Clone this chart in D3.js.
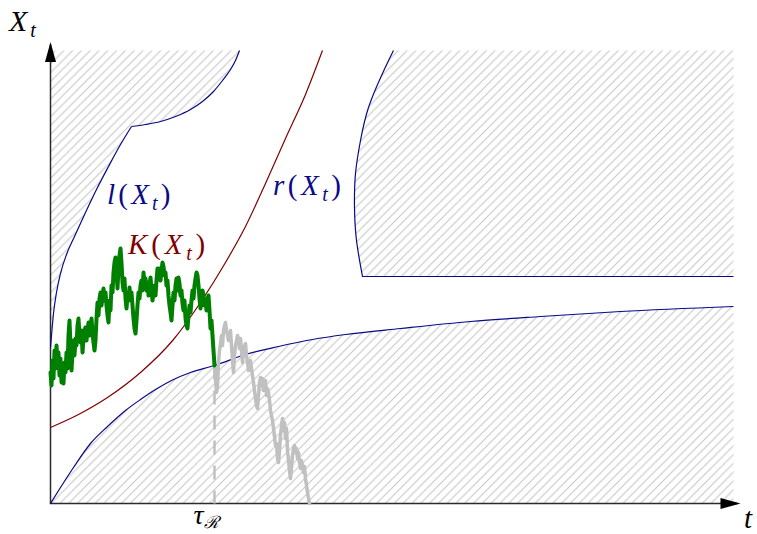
<!DOCTYPE html>
<html>
<head>
<meta charset="utf-8">
<script src="https://cdn.jsdelivr.net/npm/d3@7"></script>
<style>
  body { margin: 0; background: #fff; }
  svg { display: block; }
  text { font-family: "Liberation Serif", "Times New Roman", serif; }
</style>
</head>
<body>
<svg id="chart" width="757" height="534"></svg>
<script>
// Axis extents (time t, state X_t)
const tMax = 6.83;
const xMax = 4.53;
const tau = 1.64;          // first exit time from the continuation region
const plateau = 2.27;      // flat part of the right stopping region

// Lower boundary of the continuation region (points t, X)
const lowerBoundary = [
  [0, 0], [0.10, 0.16], [0.23, 0.36], [0.40, 0.60], [0.57, 0.77], [0.75, 0.93],
  [0.90, 1.04], [1.05, 1.14], [1.23, 1.24], [1.40, 1.31], [1.64, 1.38],
  [1.95, 1.49], [2.28, 1.57], [2.62, 1.64], [2.95, 1.69], [3.50, 1.75],
  [4.20, 1.82], [4.90, 1.87], [5.70, 1.92], [6.83, 1.97]
];

// l(X_t): left boundary, steep branch then flatter branch after the kink
const lBranchA = [
  [0, 1.56], [0.01, 1.68], [0.03, 1.90], [0.06, 2.11], [0.10, 2.30], [0.16, 2.49],
  [0.24, 2.67], [0.35, 2.91], [0.46, 3.14], [0.58, 3.37], [0.70, 3.59], [0.81, 3.77]
];
const lBranchB = [
  [0.81, 3.77], [0.95, 3.79], [1.10, 3.82], [1.25, 3.87], [1.40, 3.94], [1.52, 4.02],
  [1.63, 4.12], [1.72, 4.23], [1.80, 4.34], [1.85, 4.43], [1.89, 4.53]
];

// r(X_t): right boundary, listed from top to bottom
const rBoundary = [
  [3.43, 4.53], [3.32, 4.30], [3.18, 3.96], [3.10, 3.63], [3.05, 3.30],
  [3.04, 2.96], [3.06, 2.63], [3.12, 2.27]
];

// K(X_t)
const kCurve = [
  [0, 0.76], [0.28, 0.89], [0.57, 1.06], [0.90, 1.31], [1.23, 1.64], [1.50, 2.01],
  [1.75, 2.41], [1.95, 2.77], [2.15, 3.20], [2.35, 3.65], [2.55, 4.09], [2.72, 4.53]
];

// Sample path, step dt, before the exit time (green) ...
const dt = 0.01;
const pathBefore = [
  1.31, 1.18, 1.43, 1.25, 1.53, 1.35, 1.58, 1.43, 1.51, 1.28,
  1.45, 1.21, 1.38, 1.20, 1.41, 1.31, 1.51, 1.35, 1.68, 1.83,
  1.58, 1.33, 1.51, 1.63, 1.48, 1.65, 1.58, 1.78, 1.85, 1.68,
  1.61, 1.73, 1.51, 1.65, 1.73, 1.76, 1.63, 1.73, 1.81, 1.68,
  1.78, 1.85, 1.71, 1.61, 1.53, 1.63, 1.85, 2.01, 1.88, 2.05,
  2.11, 1.98, 2.07, 2.15, 2.03, 2.11, 1.98, 1.88, 1.81, 2.03,
  1.93, 2.18, 2.11, 2.31, 2.41, 2.46, 2.33, 2.15, 2.35, 2.48,
  2.55, 2.41, 2.21, 2.13, 2.25, 2.05, 1.95, 2.08, 2.05, 2.16,
  2.03, 2.11, 1.98, 1.85, 1.75, 1.70, 1.83, 1.98, 2.11, 2.05,
  2.18, 2.23, 2.13, 2.31, 2.20, 2.25, 2.13, 2.21, 2.08, 2.18,
  2.26, 2.13, 2.03, 2.11, 2.18, 2.08, 2.23, 2.35, 2.28, 2.35,
  2.23, 2.33, 2.41, 2.37, 2.28, 2.31, 2.18, 2.23, 2.08, 1.98,
  1.91, 1.83, 1.98, 2.11, 2.03, 2.18, 2.25, 2.13, 2.26, 2.20,
  2.08, 2.13, 2.00, 1.93, 2.03, 1.85, 1.78, 1.75, 1.88, 1.98,
  1.91, 2.03, 2.13, 2.05, 2.18, 2.25, 2.31, 2.28, 2.18, 2.05,
  1.95, 2.03, 2.13, 2.08, 1.98, 2.03, 1.93, 2.05, 2.08, 1.93,
  1.75, 1.83, 1.68, 1.53, 1.38
];
// ... and its continuation after it (grey), starting at t = tau
const pathAfter = [
  1.38, 1.25, 1.11, 1.18, 1.41, 1.53, 1.60, 1.68, 1.58, 1.73,
  1.78, 1.81, 1.73, 1.68, 1.63, 1.70, 1.73, 1.58, 1.43, 1.31,
  1.48, 1.58, 1.63, 1.68, 1.65, 1.55, 1.65, 1.53, 1.41, 1.51,
  1.58, 1.60, 1.48, 1.41, 1.33, 1.38, 1.43, 1.35, 1.28, 1.21,
  1.13, 1.05, 0.98, 0.95, 1.08, 1.21, 1.26, 1.18, 1.25, 1.13,
  1.21, 1.23, 1.08, 1.15, 1.11, 1.03, 0.93, 0.88, 0.83, 0.75,
  0.67, 0.58, 0.60, 0.45, 0.41, 0.53, 0.68, 0.78, 0.85, 0.73,
  0.81, 0.65, 0.75, 0.53, 0.43, 0.33, 0.25, 0.35, 0.48, 0.55,
  0.58, 0.51, 0.55, 0.45, 0.51, 0.41, 0.35, 0.43, 0.38, 0.31,
  0.37, 0.25, 0.18, 0.11, 0.05, 0.00
];

const blue = "#0a0a86";
const darkRed = "#800000";
const green = "#008000";
const grey = "#c0c0c0";
const axisColor = "#2b2b2b";

const svg = d3.select("#chart");
const x = d3.scaleLinear().domain([0, tMax]).range([50.5, 733.5]);
const y = d3.scaleLinear().domain([0, xMax]).range([503.5, 50.5]);

// Diagonal hatching used for the stopping regions
const hw = 8.8;
svg.append("defs").append("pattern")
  .attr("id", "hatch")
  .attr("patternUnits", "userSpaceOnUse")
  .attr("width", hw).attr("height", hw)
  .append("path")
  .attr("d", `M0,${hw}L${hw},0M${-hw / 2},${hw / 2}L${hw / 2},${-hw / 2}M${hw / 2},${hw * 1.5}L${hw * 1.5},${hw / 2}`)
  .attr("stroke", "#c4c4c4").attr("stroke-width", 1);

const px = d => x(d[0]);
const py = d => y(d[1]);

// Stopping region below the lower boundary
svg.append("path")
  .attr("d", d3.area().x(px).y0(y(0)).y1(py).curve(d3.curveMonotoneX)(lowerBoundary))
  .attr("fill", "url(#hatch)");

// Stopping region above l(X_t)
[lBranchA, lBranchB].forEach(branch => {
  svg.append("path")
    .attr("d", d3.area().x(px).y0(y(xMax)).y1(py).curve(d3.curveMonotoneX)(branch))
    .attr("fill", "url(#hatch)");
});

// Stopping region right of r(X_t)
const rLine = d3.line().x(px).y(py).curve(d3.curveNatural);
svg.append("path")
  .attr("d", rLine(rBoundary) + `L${x(tMax)},${y(plateau)}L${x(tMax)},${y(xMax)}Z`)
  .attr("fill", "url(#hatch)");

// Axes
svg.append("line")
  .attr("x1", x(0)).attr("y1", y(0)).attr("x2", x(0)).attr("y2", y(xMax) - 6)
  .attr("stroke", axisColor).attr("stroke-width", 1.5);
svg.append("line")
  .attr("x1", x(0) - 0.75).attr("y1", y(0)).attr("x2", x(tMax) + 4).attr("y2", y(0))
  .attr("stroke", axisColor).attr("stroke-width", 1.5);
const tipY = y(xMax) - 8.5, tipX = x(tMax) + 7;
svg.append("path")
  .attr("d", `M${x(0)},${tipY}L${x(0) + 5.5},${tipY + 20}L${x(0) - 5.5},${tipY + 20}Z`)
  .attr("fill", "#000");
svg.append("path")
  .attr("d", `M${tipX},${y(0)}L${tipX - 20},${y(0) - 5.5}L${tipX - 20},${y(0) + 5.5}Z`)
  .attr("fill", "#000");

// Boundary curves
const smooth = d3.line().x(px).y(py).curve(d3.curveMonotoneX);
svg.append("path").attr("d", smooth(lowerBoundary))
  .attr("fill", "none").attr("stroke", blue).attr("stroke-width", 1.2);
svg.append("path").attr("d", smooth(lBranchA))
  .attr("fill", "none").attr("stroke", blue).attr("stroke-width", 1.2);
svg.append("path").attr("d", smooth(lBranchB))
  .attr("fill", "none").attr("stroke", blue).attr("stroke-width", 1.2);
svg.append("path").attr("d", rLine(rBoundary) + `L${x(tMax)},${y(plateau)}`)
  .attr("fill", "none").attr("stroke", blue).attr("stroke-width", 1.2);
svg.append("path").attr("d", smooth(kCurve))
  .attr("fill", "none").attr("stroke", darkRed).attr("stroke-width", 1.2);

// Dashed marker at the exit time
const lowerAtTau = lowerBoundary.find(d => d[0] === tau)[1];
svg.append("line")
  .attr("x1", x(tau)).attr("y1", y(lowerAtTau)).attr("x2", x(tau)).attr("y2", y(0))
  .attr("stroke", grey).attr("stroke-width", 2.5).attr("stroke-dasharray", "14,11");

// Sample path
const walk = d3.line().x(d => x(d[0])).y(d => y(d[1]));
const afterPts = pathAfter.map((v, i) => [tau + i * dt, v]);
const beforePts = pathBefore.map((v, i) => [i * dt, v]);
svg.append("path").attr("d", walk(afterPts))
  .attr("fill", "none").attr("stroke", grey).attr("stroke-width", 3.5)
  .attr("stroke-linejoin", "round").attr("stroke-linecap", "round");
svg.append("path").attr("d", walk(beforePts))
  .attr("fill", "none").attr("stroke", green).attr("stroke-width", 4)
  .attr("stroke-linejoin", "round").attr("stroke-linecap", "round");

// Labels
function mathLabel(px0, py0, color, size, spacing, parts) {
  const t = svg.append("text").attr("x", px0).attr("y", py0)
    .attr("fill", color).attr("font-size", size)
    .attr("letter-spacing", spacing);
  parts.forEach(p => {
    const s = t.append("tspan").text(p.s);
    if (p.it) s.attr("font-style", "italic");
    if (p.sub) s.attr("font-size", Math.round(size * 0.68)).attr("dy", 6);
    if (p.up) s.attr("dy", -6);
  });
  return t;
}
mathLabel(9, 31, "#000", 30, 3, [{ s: "X", it: true }, { s: "t", it: true, sub: true }]);
mathLabel(744, 528, "#000", 29, 0, [{ s: "t", it: true }]);
mathLabel(107, 204, blue, 29, 3.2, [
  { s: "l", it: true }, { s: "(" }, { s: "X", it: true },
  { s: "t", it: true, sub: true }, { s: ")", up: true }
]);
mathLabel(128, 254, darkRed, 29, 3.8, [
  { s: "K", it: true }, { s: "(" }, { s: "X", it: true },
  { s: "t", it: true, sub: true }, { s: ")", up: true }
]);
mathLabel(273, 195, blue, 29, 3.5, [
  { s: "r", it: true }, { s: "(" }, { s: "X", it: true },
  { s: "t", it: true, sub: true }, { s: ")", up: true }
]);
const tauLabel = svg.append("text").attr("x", x(tau) - 21).attr("y", 524)
  .attr("fill", "#000").attr("font-size", 28);
tauLabel.append("tspan").attr("font-style", "italic").text("τ");
tauLabel.append("tspan").attr("font-size", 17).attr("dy", 4)
  .attr("font-family", "DejaVu Serif").attr("font-style", "italic").text("ℛ");
</script>
</body>
</html>
